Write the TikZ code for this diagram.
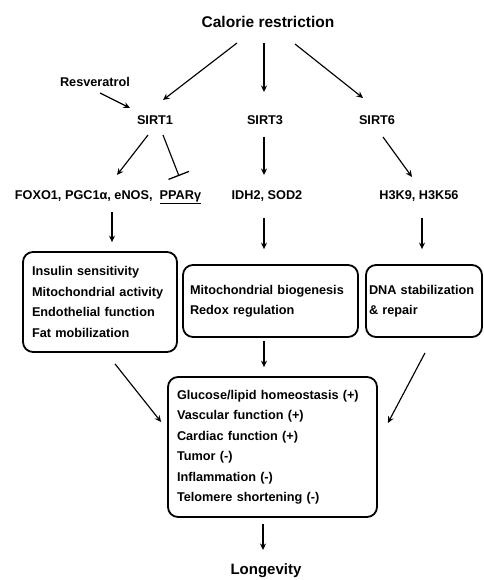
\documentclass[tikz,border=0pt]{standalone}
\usepackage{fontspec}
\setmainfont{Liberation Sans}
\usetikzlibrary{arrows.meta,calc}
\begin{document}
\begin{tikzpicture}[x=1pt,y=-1pt,
  every node/.style={font=\fontsize{12.7}{20.5}\selectfont\bfseries, inner sep=0pt},
  lbl/.style={anchor=base},
  arr/.style={-{Stealth[length=6.5pt,width=6pt]}, line width=1.15pt},
  inh/.style={-{Bar[width=22pt,line width=1.3pt]}, line width=1.15pt},
  box/.style={draw, line width=1.8pt, rounded corners=10pt, align=left}]
\useasboundingbox (0,0) rectangle (483,580);

% texts
\node[lbl, font=\fontsize{15.5}{18}\selectfont\bfseries] (cr) at (268,28) {Calorie restriction};
\node[lbl] (res) at (95,87) {Resveratrol};
\node[lbl] (s1) at (155,125) {SIRT1};
\node[lbl] (s3) at (265,125) {SIRT3};
\node[lbl] (s6) at (377,125) {SIRT6};
\node[lbl] (t1) at (108,199) {FOXO1, PGC1α, eNOS,\ \ \underline{PPARγ}};
\node[lbl] (t3) at (267,199) {IDH2, SOD2};
\node[lbl] (t6) at (419,199) {H3K9, H3K56};
\node[lbl, font=\fontsize{15}{18}\selectfont\bfseries] (lg) at (266,574) {Longevity};

% boxes
\node[box, minimum width=154pt, minimum height=100pt, inner xsep=9pt, text width=136pt] (b1) at (100,302)
  {Insulin sensitivity\\Mitochondrial activity\\Endothelial function\\Fat mobilization};
\node[box, minimum width=175pt, minimum height=72pt, inner xsep=7pt, text width=161pt] (b2) at (270.5,301)
  {Mitochondrial biogenesis\\Redox regulation};
\node[box, minimum width=116pt, minimum height=72pt, inner xsep=3pt, text width=110pt] (b3) at (424,301)
  {DNA stabilization\\\& repair};
\node[box, minimum width=209pt, minimum height=140pt, inner xsep=9pt, text width=191pt] (b4) at (272.5,447)
  {Glucose/lipid homeostasis (+)\\Vascular function (+)\\Cardiac function (+)\\Tumor (-)\\Inflammation (-)\\Telomere shortening (-)};

% connectors
\draw[arr] ($(cr.base)+(-31,15)$) -- ($(s1.base)+(8,-25)$);
\draw[arr] ($(cr.base)+(-4,15)$) -- ($(s3.base)+(-1,-33)$);
\draw[arr] ($(cr.base)+(27,16)$) -- ($(s6.base)+(-14,-27)$);
\draw[arr] ($(res.base)+(5,6)$) -- ($(s1.base)+(-25,-17)$);
\draw[arr] ($(s1.base)+(-7,10)$) -- ($(t1.base)+(9,-24)$);
\draw[inh] ($(s1.base)+(8,10)$) -- ($(t1.base)+(71,-23)$);
\draw[arr] ($(s3.base)+(-1,12)$) -- ($(t3.base)+(-3,-24)$);
\draw[arr] ($(s6.base)+(6,12)$) -- ($(t6.base)+(-7,-22)$);
\draw[arr] ($(t1.base)+(4,13)$) -- ($(b1.north)+(12,-9)$);
\draw[arr] ($(t3.base)+(-3,19)$) -- ($(b2.north)+(-6.5,-15)$);
\draw[arr] ($(t6.base)+(3,19)$) -- ($(b3.north)+(-2,-15)$);
\draw[arr] ($(b2.south)+(-6.5,3)$) -- ($(b4.north)+(-8.5,-9)$);
\draw[arr] ($(b1.south)+(15,11)$) -- ($(b4.west)+(-6,-25)$);
\draw[arr] ($(b3.south)+(1,15)$) -- ($(b4.east)+(10,-24)$);
\draw[arr] ($(b4.south)+(-9.5,6)$) -- ($(lg.base)+(-3,-24)$);
\end{tikzpicture}
\end{document}
